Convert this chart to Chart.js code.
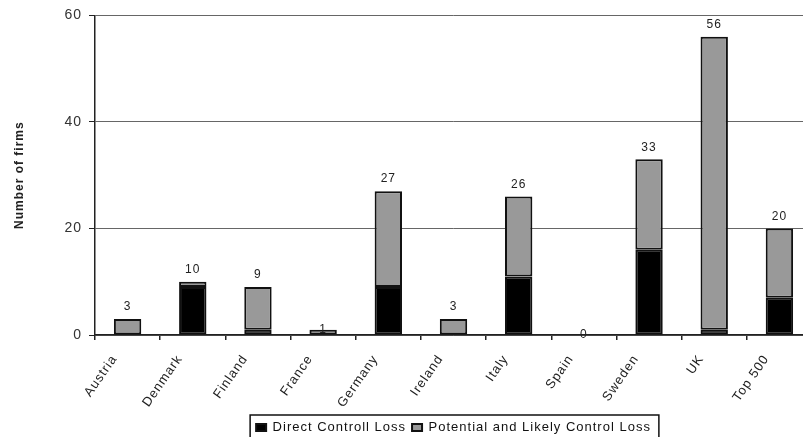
<!DOCTYPE html>
<html>
<head>
<meta charset="utf-8">
<script src="https://cdn.jsdelivr.net/npm/chart.js@4/dist/chart.umd.min.js"></script>
<style>
  html, body { margin: 0; padding: 0; overflow: hidden; background: #fff; }
  #wrap { width: 830px; height: 444px; position: relative; }
</style>
</head>
<body>
<div id="wrap"><canvas id="c"></canvas></div>
<script>
// Firms by country, split by type of control loss
const categories = ['Austria', 'Denmark', 'Finland', 'France', 'Germany', 'Ireland', 'Italy', 'Spain', 'Sweden', 'UK', 'Top 500'];
const directLoss = [0, 9, 1, 0, 9, 0, 11, 0, 16, 1, 7];
const potentialLoss = [3, 1, 8, 1, 18, 3, 15, 0, 17, 55, 13];
const yTicks = [0, 20, 40, 60];

const FONT = "'Liberation Sans', Arial, sans-serif";
Chart.defaults.font.family = FONT;
Chart.defaults.color = '#222';

// Slightly spaced lettering on every text drawn by the chart
const spacing = {
  id: 'spacing',
  beforeUpdate(chart) { chart.ctx.letterSpacing = '1px'; },
  beforeDraw(chart) { chart.ctx.letterSpacing = '1px'; }
};

// Totals written above each stacked column
const totals = {
  id: 'totals',
  afterDatasetsDraw(chart) {
    const ctx = chart.ctx;
    const y = chart.scales.y;
    const meta = chart.getDatasetMeta(1);
    ctx.save();
    ctx.letterSpacing = '1px';
    ctx.font = '12px ' + FONT;
    ctx.fillStyle = '#222';
    ctx.textAlign = 'center';
    ctx.textBaseline = 'middle';
    categories.forEach((c, i) => {
      const total = directLoss[i] + potentialLoss[i];
      const top = y.getPixelForValue(total);
      const off = total <= 1 ? 0 : 12;
      ctx.fillText(String(total), meta.data[i].x, top - off);
    });
    ctx.restore();
  }
};

// Frame around the legend
const legendFrame = {
  id: 'legendFrame',
  afterDraw(chart) {
    const lg = chart.legend;
    if (!lg || !lg.legendHitBoxes || !lg.legendHitBoxes.length) return;
    const boxes = lg.legendHitBoxes;
    const left = Math.min(...boxes.map(b => b.left)) - 6;
    const right = Math.max(...boxes.map(b => b.left + b.width)) + 8;
    const top = lg.top;
    const ctx = chart.ctx;
    ctx.save();
    ctx.strokeStyle = '#111';
    ctx.lineWidth = 1.5;
    ctx.strokeRect(left, top, right - left, chart.height - top + 10);
    ctx.restore();
  }
};

new Chart(document.getElementById('c'), {
  type: 'bar',
  data: {
    labels: categories,
    datasets: [
      {
        label: 'Direct Controll Loss',
        data: directLoss,
        backgroundColor: '#000000',
        borderColor: '#111111',
        borderWidth: 2,
        borderSkipped: false,
        barPercentage: 0.42,
        categoryPercentage: 1.0
      },
      {
        label: 'Potential and Likely Control Loss',
        data: potentialLoss,
        backgroundColor: '#999999',
        borderColor: '#111111',
        borderWidth: 2,
        borderSkipped: false,
        barPercentage: 0.42,
        categoryPercentage: 1.0
      }
    ]
  },
  options: {
    responsive: true,
    maintainAspectRatio: false,
    animation: false,
    layout: { padding: { top: 14, right: 18, left: 0, bottom: 0 } },
    plugins: {
      legend: {
        position: 'bottom',
        fullSize: false,
        labels: {
          boxWidth: 10,
          boxHeight: 7,
          padding: 6,
          color: '#111',
          font: { size: 13, family: FONT }
        }
      },
      tooltip: { enabled: false }
    },
    scales: {
      x: {
        stacked: true,
        offset: true,
        afterFit(scale) { scale.height = 80; },
        grid: {
          offset: true,
          drawOnChartArea: false,
          drawTicks: true,
          tickLength: 5,
          color: '#222',
          lineWidth: 1.5
        },
        border: { display: true, color: '#222', width: 1.5 },
        ticks: {
          minRotation: 55,
          maxRotation: 55,
          autoSkip: false,
          padding: 12,
          labelOffset: -13,
          color: '#222',
          font: { size: 13, family: FONT }
        }
      },
      y: {
        stacked: true,
        min: 0,
        max: 60,
        afterFit(scale) { scale.width = 95; },
        afterBuildTicks(scale) { scale.ticks = yTicks.map(v => ({ value: v })); },
        grid: {
          color: '#666',
          lineWidth: 1,
          tickLength: 6,
          tickColor: '#222',
          drawTicks: true
        },
        border: { display: true, color: '#222', width: 1.5 },
        ticks: {
          padding: 7,
          color: '#333',
          font: { size: 14, family: FONT }
        },
        title: {
          display: true,
          text: 'Number of firms',
          color: '#222',
          padding: { top: 12, bottom: 0 },
          font: { size: 12, weight: 'bold', family: FONT }
        }
      }
    }
  },
  plugins: [spacing, totals, legendFrame]
});
</script>
</body>
</html>
